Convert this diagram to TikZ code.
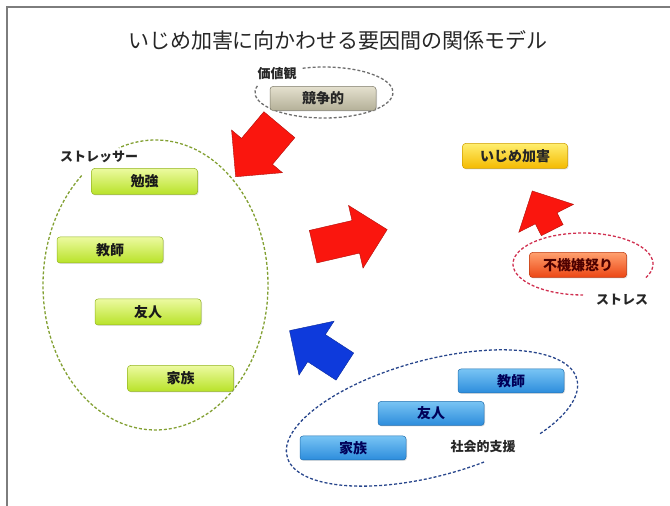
\documentclass[tikz,border=0pt]{standalone}
\usepackage{fontspec}
\usepackage{xcolor}
\usepackage{tikz}
\usetikzlibrary{shapes.arrows,shadows,positioning}
\newfontfamily\jpfont{Noto Sans CJK JP}
\definecolor{framegray}{RGB}{125,125,125}
\definecolor{valuegray}{RGB}{110,110,110}
\definecolor{stressgreen}{RGB}{130,160,50}
\definecolor{moodred}{RGB}{208,48,80}
\definecolor{supportblue}{RGB}{40,70,140}
\definecolor{arrowred}{RGB}{250,22,14}
\definecolor{arrowblue}{RGB}{14,58,220}
\definecolor{greentop}{RGB}{236,250,160}
\definecolor{greenbot}{RGB}{184,226,40}
\definecolor{bluetop}{RGB}{120,196,244}
\definecolor{bluebot}{RGB}{44,140,220}
\definecolor{yellowtop}{RGB}{255,238,110}
\definecolor{yellowbot}{RGB}{244,186,0}
\definecolor{orangetop}{RGB}{255,160,110}
\definecolor{orangebot}{RGB}{236,70,20}
\definecolor{graytop}{RGB}{228,224,206}
\definecolor{graybot}{RGB}{180,176,152}
\tikzset{
    factor/.style={rectangle, draw, rounded corners=3pt, minimum width=106pt, minimum height=26pt, inner sep=0pt, line width=0.5pt, font=\jpfont\bfseries\fontsize{14}{14}\selectfont, drop shadow={opacity=0.25, shadow xshift=1pt, shadow yshift=-1pt}},
    greenbox/.style={factor, draw=greenbot!80!black, top color=greentop, bottom color=greenbot, text=black!90},
    bluebox/.style={factor, draw=bluebot!80!black, top color=bluetop, bottom color=bluebot, text=blue!35!black},
    yellowbox/.style={factor, draw=yellowbot!85!black, top color=yellowtop, bottom color=yellowbot, text=black!85},
    orangebox/.style={factor, draw=orangebot!80!black, top color=orangetop, bottom color=orangebot, text=red!30!black},
    graybox/.style={factor, draw=graybot!70!black, top color=graytop, bottom color=graybot, text=black!85},
    tag/.style={font=\jpfont\bfseries\fontsize{13}{13}\selectfont, text=black!85, inner sep=1pt},
    group/.style={line width=1.3pt, dash pattern=on 3pt off 2pt},
    fatarrow/.style={single arrow, inner sep=0pt, text depth=0pt, single arrow head indent=0pt, line width=0.4pt}
}
\begin{document}
\begin{tikzpicture}[x=1pt, y=1pt]
    \useasboundingbox (0,0) rectangle (670,506);
    \draw[framegray, line width=1.5pt] (670,499) -- (7,499) -- (7,0);

    % Title
    \node [font=\jpfont\fontsize{21}{21}\selectfont, text=black!85] (title) at (338,466) {いじめ加害に向かわせる要因間の関係モデル};

    % Value
    \draw [group, draw=valuegray] (324,413.5) ++(165:69pt and 25.5pt) arc [start angle=165, end angle=469, x radius=69pt, y radius=25.5pt];
    \node [graybox, minimum height=24pt] (compete) at (323,407.5) {競争的};
    \node [tag] (values) at (277,432) {価値観};

    % Stressors
    \draw [group, draw=stressgreen] (155.5,221) ++(131:112.5pt and 145pt) arc [start angle=131, end angle=469, x radius=112.5pt, y radius=145pt];
    \node [tag] (stressor) at (99,349) {ストレッサー};
    \node [greenbox] (study) at (144.5,324.5) {勉強};
    \node [greenbox] (teacher) at ([shift={(-34.5,-68.5)}]study) {教師};
    \node [greenbox] (friend) at ([shift={(38,-62)}]teacher) {友人};
    \node [greenbox] (family) at ([shift={(32.5,-66.5)}]friend) {家族};

    % Bullying and stress
    \node [yellowbox, minimum width=105pt, minimum height=25pt] (bully) at (515,350) {いじめ加害};
    \draw [group, draw=moodred] (583,242) ++(-26:70pt and 31pt) arc [start angle=-26, end angle=270, x radius=70pt, y radius=31pt];
    \node [orangebox, minimum width=97pt, minimum height=25pt] (mood) at (578,241) {不機嫌怒り};
    \node [tag] (stress) at (622,206) {ストレス};

    % Social support
    \draw [group, draw=supportblue, shift={(432,88)}, rotate=15] (-48:150pt and 58pt) arc [start angle=-48, end angle=285, x radius=150pt, y radius=58pt];
    \node [bluebox, minimum height=24pt] (sfamily) at (353,58) {家族};
    \node [bluebox, minimum height=24pt] (sfriend) at ([shift={(78,34.5)}]sfamily) {友人};
    \node [bluebox, minimum height=24pt] (steacher) at ([shift={(80,32.5)}]sfriend) {教師};
    \node [tag] (support) at (483,59.5) {社会的支援};

    % Arrows
    \node [fatarrow, fill=arrowred, draw=arrowred!70!black, text height=40pt, minimum height=68pt, single arrow head extend=13pt, rotate=230] (push) at (264,363) {};
    \node [fatarrow, fill=arrowred, draw=arrowred!70!black, text height=33pt, minimum height=76pt, single arrow head extend=15.5pt, rotate=13] (lead) at (342,266) {};
    \node [fatarrow, fill=arrowred, draw=arrowred!70!black, text height=24pt, minimum height=44pt, single arrow head extend=18.5pt, rotate=117] (anger) at (545,290) {};
    \node [fatarrow, fill=arrowblue, draw=arrowblue!70!black, text height=32pt, minimum height=66pt, single arrow head extend=16pt, rotate=147] (buffer) at (324,153) {};
\end{tikzpicture}
\end{document}
